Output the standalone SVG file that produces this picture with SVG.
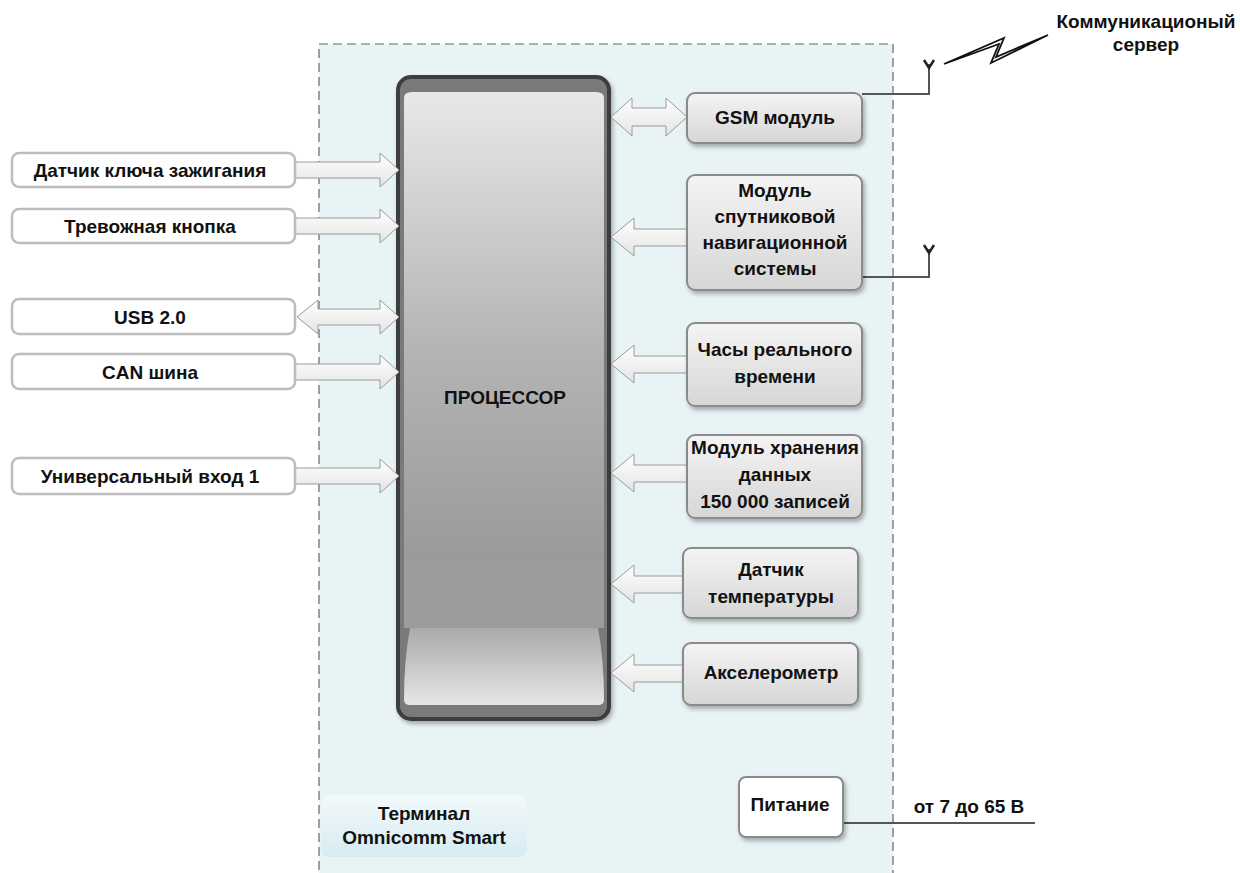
<svg xmlns="http://www.w3.org/2000/svg" width="1240" height="873" viewBox="0 0 1240 873">
<style>
text{font-family:"Liberation Sans",Arial,sans-serif;font-weight:bold;font-size:19px;fill:#111;text-anchor:middle}
.lbox{fill:#fff;stroke:#bdbdbd;stroke-width:2.5}
.rbox{fill:url(#gbox);stroke:#8a8a8a;stroke-width:2;filter:url(#sh)}
.arr{fill:url(#garr);stroke:#9a9a9a;stroke-width:1}
.wire{fill:none;stroke:#555;stroke-width:2}
</style>
<defs>
<linearGradient id="gbox" x1="0" y1="0" x2="0" y2="1"><stop offset="0" stop-color="#f4f4f4"/><stop offset="1" stop-color="#d6d6d6"/></linearGradient>
<linearGradient id="garr" x1="0" y1="0" x2="0" y2="1"><stop offset="0" stop-color="#ffffff"/><stop offset="1" stop-color="#e4e4e4"/></linearGradient>
<linearGradient id="gproc" x1="0" y1="0" x2="0" y2="1"><stop offset="0" stop-color="#e8e8e8"/><stop offset="0.55" stop-color="#b4b4b4"/><stop offset="1" stop-color="#9a9a9a"/></linearGradient>
<linearGradient id="gproc2" x1="0" y1="0" x2="0" y2="1"><stop offset="0" stop-color="#aaaaaa"/><stop offset="1" stop-color="#e6e6e6"/></linearGradient>
<linearGradient id="gterm" x1="0" y1="0" x2="0" y2="1"><stop offset="0" stop-color="#f2f9fb"/><stop offset="1" stop-color="#d6ebf2"/></linearGradient>
<filter id="sh" x="-10%" y="-10%" width="125%" height="130%"><feDropShadow dx="2" dy="3" stdDeviation="2" flood-color="#000" flood-opacity="0.3"/></filter>
</defs>
<rect width="1240" height="873" fill="#fff"/>
<g id="terminal">
<rect x="319" y="44" width="574" height="840" fill="#e8f3f6" stroke="#666" stroke-width="1.2" stroke-dasharray="9,5"/>
<rect x="321" y="795" width="206" height="62" rx="8" fill="url(#gterm)"/>
<text x="424" y="820">Терминал</text>
<text x="424" y="844">Omnicomm Smart</text>
</g>
<g id="processor">
<rect x="398" y="77" width="211" height="642" rx="13" fill="#7a7a7a" stroke="#3d3d3d" stroke-width="4" filter="url(#sh)"/>
<path d="M404 98 Q404 92 412 92 L596 92 Q604 92 604 98 L604 560 L404 560 Z" fill="url(#gproc)"/>
<rect x="404" y="560" width="200" height="68" fill="#9c9c9c"/>
<path d="M410 628 L598 628 Q604 660 604 700 Q604 705 598 705 L410 705 Q404 705 404 700 Q404 660 410 628 Z" fill="url(#gproc2)"/>
<text x="505" y="404">ПРОЦЕССОР</text>
</g>
<g id="connectors">
<path class="arr" d="M295 162 L380 162 L380 153 L399 170 L380 187 L380 178 L295 178 Z"/>
<path class="arr" d="M295 218 L380 218 L380 209 L399 226 L380 243 L380 234 L295 234 Z"/>
<path class="arr" d="M297 317 L318 300 L318 309 L380 309 L380 300 L399 317 L380 334 L380 325 L318 325 L318 334 Z"/>
<path class="arr" d="M295 364 L380 364 L380 355 L399 372 L380 389 L380 380 L295 380 Z"/>
<path class="arr" d="M295 468 L380 468 L380 459 L399 476 L380 493 L380 484 L295 484 Z"/>
<path class="arr" d="M611 117 L632 98 L632 108 L666 108 L666 98 L687 117 L666 136 L666 126 L632 126 L632 136 Z"/>
<path class="arr" d="M611 237 L634 218 L634 229 L687 229 L687 246 L634 246 L634 256 Z"/>
<path class="arr" d="M611 364 L634 345 L634 356 L687 356 L687 373 L634 373 L634 383 Z"/>
<path class="arr" d="M611 473 L634 454 L634 465 L687 465 L687 482 L634 482 L634 492 Z"/>
<path class="arr" d="M611 584 L634 565 L634 576 L683 576 L683 593 L634 593 L634 603 Z"/>
<path class="arr" d="M611 673 L634 654 L634 665 L683 665 L683 682 L634 682 L634 692 Z"/>
<polyline class="wire" points="862,94 929,94 929,64"/>
<polyline points="924,60 929,68 934,60" fill="none" stroke="#222" stroke-width="2.5"/>
<polyline class="wire" points="862,277 929,277 929,249"/>
<polyline points="924,245 929,253 934,245" fill="none" stroke="#222" stroke-width="2.5"/>
<polygon points="944,64 1004,38 996,57 1048,35 991,63 999,44" fill="#fff" stroke="#111" stroke-width="1.8" stroke-linejoin="miter"/>
<line class="wire" x1="838" y1="823" x2="1035" y2="823" stroke-width="1.5"/>
</g>
<g id="n-ign"><rect class="lbox" x="12" y="153" width="283" height="34" rx="7"/><text x="150" y="177">Датчик ключа зажигания</text></g>
<g id="n-alarm"><rect class="lbox" x="12" y="209" width="283" height="34" rx="7"/><text x="150" y="233">Тревожная кнопка</text></g>
<g id="n-usb"><rect class="lbox" x="12" y="299" width="283" height="35" rx="7"/><text x="150" y="324">USB 2.0</text></g>
<g id="n-can"><rect class="lbox" x="12" y="354" width="283" height="35" rx="7"/><text x="150" y="379">CAN шина</text></g>
<g id="n-univ"><rect class="lbox" x="12" y="458" width="283" height="36" rx="7"/><text x="150" y="483">Универсальный вход 1</text></g>
<g id="n-gsm"><rect class="rbox" x="687" y="93" width="175" height="50" rx="8"/><text x="775" y="124">GSM модуль</text></g>
<g id="n-gnss"><rect class="rbox" x="687" y="175" width="175" height="115" rx="8"/><text x="775" y="197">Модуль</text><text x="775" y="223">спутниковой</text><text x="775" y="249">навигационной</text><text x="775" y="275">системы</text></g>
<g id="n-rtc"><rect class="rbox" x="687" y="323" width="175" height="83" rx="8"/><text x="775" y="356">Часы реального</text><text x="775" y="383">времени</text></g>
<g id="n-storage"><rect class="rbox" x="687" y="435" width="175" height="83" rx="8"/><text x="775" y="454">Модуль хранения</text><text x="775" y="481">данных</text><text x="775" y="508">150 000 записей</text></g>
<g id="n-temp"><rect class="rbox" x="683" y="548" width="175" height="70" rx="8"/><text x="771" y="576">Датчик</text><text x="771" y="603">температуры</text></g>
<g id="n-accel"><rect class="rbox" x="683" y="643" width="175" height="62" rx="8"/><text x="771" y="679">Акселерометр</text></g>
<g id="n-power"><rect x="739" y="777" width="104" height="60" rx="7" fill="#fff" stroke="#8a8a8a" stroke-width="2" filter="url(#sh)"/><text x="790" y="811">Питание</text></g>
<g id="n-server"><text x="1146" y="28">Коммуникационый</text><text x="1146" y="51">сервер</text></g>
<g id="n-volt"><text x="969" y="813">от 7 до 65 В</text></g>
</svg>
